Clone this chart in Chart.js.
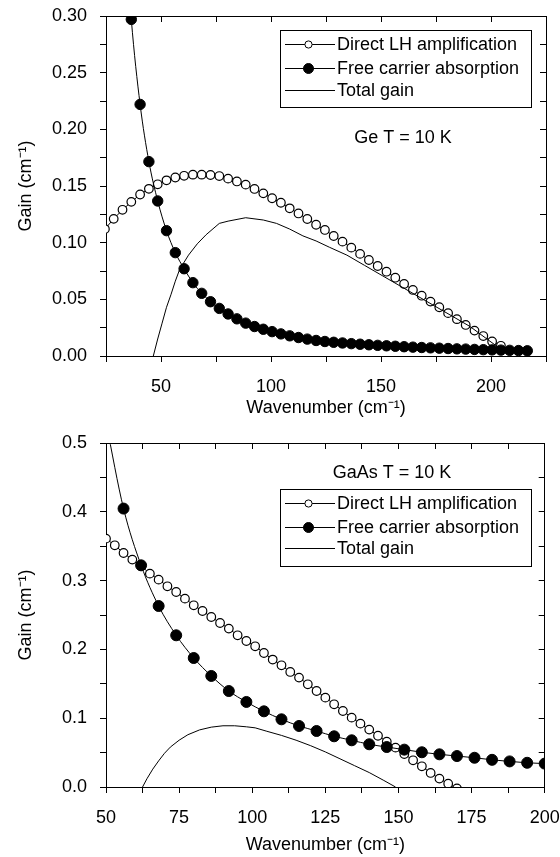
<!DOCTYPE html>
<html>
<head>
<meta charset="utf-8">
<script src="https://cdn.jsdelivr.net/npm/chart.js@4.4.1/dist/chart.umd.min.js"></script>
<style>
  html, body { margin: 0; padding: 0; background: #fff; }
  #wrap { position: relative; width: 560px; height: 857px; }
  canvas { position: absolute; left: 0; }
  #geChart { top: 0; }
  #gaasChart { top: 428px; }
</style>
</head>
<body>
<div id="wrap">
  <canvas id="geChart" width="560" height="428"></canvas>
  <canvas id="gaasChart" width="560" height="429"></canvas>
</div>
<script>
// ---- Ge, T = 10 K ----
const geLhX = [24.5, 28.5, 32.5, 36.5, 40.5, 44.5, 48.5, 52.5, 56.5, 60.5, 64.5, 68.5, 72.5, 76.5, 80.5, 84.5,
    88.5, 92.5, 96.5, 100.5, 104.5, 108.5, 112.5, 116.5, 120.5, 124.5, 128.5, 132.5, 136.5, 140.5, 144.5, 148.5,
    152.5, 156.5, 160.5, 164.5, 168.5, 172.5, 176.5, 180.5, 184.5, 188.5, 192.5, 196.5, 200.5, 204.5];
const geLhY = [0.112, 0.121, 0.129, 0.136, 0.1425, 0.1475, 0.1515, 0.155, 0.1575, 0.159, 0.160, 0.160, 0.1597, 0.1588, 0.1565, 0.154,
    0.1512, 0.1474, 0.1435, 0.1392, 0.1352, 0.1303, 0.1258, 0.1209, 0.1158, 0.1112, 0.1059, 0.1009, 0.0956, 0.0901, 0.0847, 0.0794,
    0.0744, 0.0691, 0.0636, 0.0583, 0.0532, 0.0480, 0.0430, 0.0378, 0.0325, 0.0274, 0.0224, 0.0176, 0.0128, 0.0090];

const geFcaX = [32.5, 36.5, 40.5, 44.5, 48.5, 52.5, 56.5, 60.5, 64.5, 68.5, 72.5, 76.5, 80.5, 84.5, 88.5, 92.5,
    96.5, 100.5, 104.5, 108.5, 112.5, 116.5, 120.5, 124.5, 128.5, 132.5, 136.5, 140.5, 144.5, 148.5, 152.5, 156.5,
    160.5, 164.5, 168.5, 172.5, 176.5, 180.5, 184.5, 188.5, 192.5, 196.5, 200.5, 204.5, 208.5, 212.5, 216.5];
const geFcaY = [0.41, 0.297, 0.222, 0.1715, 0.1368, 0.1106, 0.0912, 0.077, 0.0647, 0.0553, 0.0479, 0.042, 0.0371, 0.0328, 0.029, 0.026,
    0.0236, 0.0215, 0.0195, 0.0178, 0.0163, 0.0149, 0.0137, 0.0128, 0.0121, 0.0115, 0.0109, 0.0104, 0.0099, 0.0094, 0.009, 0.0086,
    0.0082, 0.0078, 0.0075, 0.0072, 0.0069, 0.0066, 0.0063, 0.0061, 0.0058, 0.0056, 0.0054, 0.0052, 0.005, 0.0048, 0.0046];

const geTotX = [46.5, 48.5, 50.5, 52.5, 54.5, 56.5, 58.5, 62.5, 66.5, 70.5, 76.5, 80.5, 88.5, 96.5, 102.5,
    108.5, 114.5, 120.5, 126.5, 134.5, 142.5, 150.5, 158.5, 166.5, 174.5, 182.5, 190.5, 198.5, 204.5];
const geTotY = [0, 0.015, 0.029, 0.043, 0.054, 0.066, 0.0765, 0.089, 0.099, 0.107, 0.117, 0.119, 0.122, 0.120, 0.117,
    0.112, 0.106, 0.1015, 0.096, 0.089, 0.080, 0.071, 0.062, 0.053, 0.044, 0.035, 0.026, 0.0145, 0.006];

// ---- GaAs, T = 10 K ----
const gaasLhX = [50, 53, 56, 59, 62, 65, 68, 71, 74, 77, 80, 83, 86, 89, 92, 95, 98, 101, 104, 107, 110,
    113, 116, 119, 122, 125, 128, 131, 134, 137, 140, 143, 146, 149, 152, 155, 158, 161, 164, 167, 170];
const gaasLhY = [0.361, 0.3513, 0.3401, 0.3305, 0.3213, 0.3101, 0.3014, 0.2917, 0.2834, 0.2738, 0.2641, 0.2558, 0.2471, 0.2384,
    0.2302, 0.2205, 0.2122, 0.2045, 0.1948, 0.1852, 0.1769, 0.1672, 0.159, 0.1493, 0.1395, 0.1299, 0.1202, 0.1105, 0.1008,
    0.0921, 0.0834, 0.0745, 0.066, 0.0572, 0.048, 0.0388, 0.0301, 0.0204, 0.0122, 0.0049, -0.002];

const gaasFcaX = [50, 56, 62, 68, 74, 80, 86, 92, 98, 104, 110, 116, 122, 128, 134, 140, 146, 152, 158, 164,
    170, 176, 182, 188, 194, 200];
const gaasFcaY = [0.53, 0.4047, 0.3222, 0.2631, 0.2205, 0.1875, 0.1614, 0.1395, 0.1236, 0.11, 0.0984, 0.0887, 0.0814, 0.0737,
    0.0679, 0.0621, 0.0581, 0.0543, 0.0505, 0.0475, 0.045, 0.0425, 0.0395, 0.0372, 0.0352, 0.034];

const gaasTotX = [62.5, 64, 66, 68, 70, 72, 75, 78, 82, 86, 90, 94, 98, 101, 105, 110, 115, 120, 125, 130, 135, 140, 145, 149];
const gaasTotY = [0, 0.012, 0.026, 0.038, 0.049, 0.058, 0.068, 0.076, 0.083, 0.087, 0.089, 0.089, 0.0875, 0.086, 0.081,
    0.075, 0.068, 0.060, 0.051, 0.041, 0.031, 0.021, 0.0095, 0];

const seriesLabels = ['Direct LH amplification', 'Free carrier absorption', 'Total gain'];
const FONT = '18px "Liberation Sans", Arial, sans-serif';

Chart.defaults.font.family = '"Liberation Sans", Arial, sans-serif';
Chart.defaults.font.size = 18;
Chart.defaults.color = '#000';

const pts = (xs, ys) => xs.map((x, i) => ({ x: x, y: ys[i] }));

// note text and the boxed legend inside the plot
const notePlugin = {
    id: 'note',
    afterDraw(chart, args, o) {
        const ctx = chart.ctx;
        ctx.save();
        ctx.fillStyle = '#000';
        ctx.font = FONT;
        ctx.textAlign = 'center';
        ctx.textBaseline = 'middle';
        ctx.fillText(o.note, o.noteX, o.noteY);

        const b = o.box;
        ctx.strokeStyle = '#000';
        ctx.lineWidth = 1;
        ctx.strokeRect(b.left + 0.5, b.top + 0.5, b.width, b.height);
        ctx.textAlign = 'left';
        chart.data.datasets.forEach((ds, i) => {
            const ry = Math.round(b.top + b.rows[i]) + 0.5;
            ctx.beginPath();
            ctx.moveTo(b.left + 5, ry); ctx.lineTo(b.left + 55, ry);
            ctx.stroke();
            if (ds.pointRadius > 0) {
                ctx.beginPath();
                ctx.arc(b.left + 28.5, ry, ds.pointBackgroundColor === '#fff' ? 3.6 : 5, 0, Math.PI * 2);
                ctx.fillStyle = ds.pointBackgroundColor;
                ctx.fill();
                ctx.stroke();
            }
            ctx.fillStyle = '#000';
            ctx.fillText(ds.label, b.left + 57, ry + 1);
        });
        ctx.restore();
    }
};

function makeDatasets(lh, fca, tot, rOpen, rFilled) {
    return [
        { label: seriesLabels[0], data: lh, order: 3, showLine: true, borderColor: '#000', borderWidth: 1,
          pointRadius: rOpen, pointBorderWidth: 1.2, pointBackgroundColor: '#fff', pointBorderColor: '#000', clip: 0 },
        { label: seriesLabels[1], data: fca, order: 2, showLine: true, borderColor: '#000', borderWidth: 1,
          cubicInterpolationMode: 'monotone',
          pointRadius: rFilled, pointBorderWidth: 1, pointBackgroundColor: '#000', pointBorderColor: '#000', clip: 0 },
        { label: seriesLabels[2], data: tot, order: 1, showLine: true, borderColor: '#000', borderWidth: 1,
          pointRadius: 0, clip: 0 }
    ];
}

function makeOptions(xr, yr, pad, xTitlePad) {
    const xTicks = { stepSize: xr.step, autoSkip: false, maxRotation: 0 };
    const yTicks = { stepSize: yr.step, autoSkip: false };
    const line = { border: { display: true, color: '#000', width: 1 } };
    return {
        responsive: false,
        animation: false,
        layout: { padding: { top: pad.top, right: pad.right, left: 0, bottom: 0 } },
        plugins: { legend: { display: false }, tooltip: { enabled: false }, note: pad.note },
        scales: {
            x: {
                type: 'linear', min: xr.min, max: xr.max, ...line,
                afterFit: s => { s.height = pad.xh; s.paddingLeft = 0; s.paddingRight = 0; },
                grid: { drawOnChartArea: false, color: '#000', tickLength: 6 },
                ticks: { ...xTicks, padding: 14, callback: v => (v % xr.label === 0 ? String(v) : '') },
                title: { display: true, text: 'Wavenumber (cm⁻¹)', padding: { top: 0, bottom: xTitlePad } }
            },
            // top frame with inward ticks
            x2: {
                type: 'linear', position: 'top', min: xr.min, max: xr.max, ...line,
                afterFit: s => { s.height = 0; s.paddingLeft = 0; s.paddingRight = 0; },
                grid: { drawOnChartArea: false, color: '#000', tickLength: -6 },
                ticks: { ...xTicks, display: false }
            },
            y: {
                type: 'linear', min: yr.min, max: yr.max, ...line,
                afterFit: s => { s.width = 106; s.paddingTop = 0; s.paddingBottom = 0; },
                grid: { drawOnChartArea: false, color: '#000', tickLength: 6 },
                ticks: { ...yTicks, padding: 13,
                         callback: v => {
                             const k = v / yr.label;
                             return Math.abs(k - Math.round(k)) < 1e-6 ? v.toFixed(yr.digits) : '';
                         } },
                title: { display: true, text: 'Gain (cm⁻¹)', padding: { top: 15, bottom: 0 } }
            },
            // right frame with inward ticks
            y2: {
                type: 'linear', position: 'right', min: yr.min, max: yr.max, ...line,
                afterFit: s => { s.width = 0; s.paddingTop = 0; s.paddingBottom = 0; },
                grid: { drawOnChartArea: false, color: '#000', tickLength: -6 },
                ticks: { ...yTicks, display: false }
            }
        }
    };
}

new Chart(document.getElementById('geChart'), {
    type: 'scatter',
    data: { datasets: makeDatasets(pts(geLhX, geLhY), pts(geFcaX, geFcaY), pts(geTotX, geTotY), 4.3, 5.2) },
    options: makeOptions(
        { min: 25, max: 225, step: 25, label: 50 },
        { min: 0, max: 0.3, step: 0.025, label: 0.05, digits: 2 },
        { top: 16, right: 14, xh: 72,
          note: { note: 'Ge T = 10 K', noteX: 403, noteY: 138,
                  box: { left: 280, top: 30, width: 251, height: 77, rows: [14, 38, 60] } } },
        9),
    plugins: [notePlugin]
});

new Chart(document.getElementById('gaasChart'), {
    type: 'scatter',
    data: { datasets: makeDatasets(pts(gaasLhX, gaasLhY), pts(gaasFcaX, gaasFcaY), pts(gaasTotX, gaasTotY), 4.3, 5.5) },
    options: makeOptions(
        { min: 50, max: 200, step: 12.5, label: 25 },
        { min: 0, max: 0.5, step: 0.05, label: 0.1, digits: 1 },
        { top: 15, right: 15.3, xh: 70,
          note: { note: 'GaAs T = 10 K', noteX: 392, noteY: 45,
                  box: { left: 280, top: 61, width: 251, height: 77, rows: [14, 38, 59] } } },
        1),
    plugins: [notePlugin]
});
</script>
</body>
</html>
